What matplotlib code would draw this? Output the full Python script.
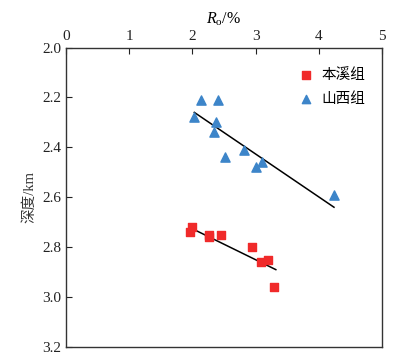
import matplotlib
matplotlib.use('Agg')
import matplotlib.pyplot as plt
import numpy as np

plt.rcParams['font.family'] = ['Liberation Serif', 'Noto Sans CJK SC']
plt.rcParams['mathtext.fontset'] = 'custom'
plt.rcParams['mathtext.rm'] = 'Liberation Serif'
plt.rcParams['mathtext.it'] = 'Liberation Serif:italic'

# Benxi formation (red squares)
bx_ro = [1.99, 1.96, 2.27, 2.27, 2.45, 2.95, 3.09, 3.20, 3.29]
bx_depth = [2.72, 2.74, 2.75, 2.76, 2.75, 2.80, 2.86, 2.85, 2.96]
bx_fit_ro = [2.03, 3.32]
bx_fit_depth = [2.73, 2.89]

# Shanxi formation (blue triangles)
sx_ro = [2.14, 2.41, 2.02, 2.37, 2.34, 2.52, 2.81, 3.10, 3.01, 4.24]
sx_depth = [2.21, 2.21, 2.28, 2.30, 2.34, 2.44, 2.41, 2.46, 2.48, 2.59]
sx_fit_ro = [2.03, 4.24]
sx_fit_depth = [2.26, 2.64]

x_ticks = [0, 1, 2, 3, 4, 5]
y_ticks = [2.0, 2.2, 2.4, 2.6, 2.8, 3.0, 3.2]

fig = plt.figure(figsize=(3.96, 3.64), dpi=100)
ax = fig.add_axes([0.1667, 0.0467, 0.798, 0.8228])

ax.plot(sx_fit_ro, sx_fit_depth, color='black', lw=1.1)
ax.plot(bx_fit_ro, bx_fit_depth, color='black', lw=1.1)
ax.scatter(bx_ro, bx_depth, marker='s', s=34, color='#f02a2a', label='本溪组', zorder=3)
ax.scatter(sx_ro, sx_depth, marker='^', s=44, color='#3d85c9', label='山西组', zorder=3)

ax.set_xlim(0, 5)
ax.set_ylim(3.2, 2.0)
ax.set_xticks(x_ticks)
ax.set_yticks(y_ticks)
ax.set_yticklabels(['%.1f' % v for v in y_ticks])
ax.xaxis.tick_top()
ax.xaxis.set_label_position('top')
ax.tick_params(axis='both', direction='in', length=4, width=0.8, labelsize=11, colors='#222222')
ax.tick_params(axis='x', pad=3)
ax.set_xlabel(r'$R_\mathrm{o}$/%', fontsize=11.5, labelpad=5)
ax.set_ylabel('深度/km', fontsize=10.5, color='#333333', labelpad=4)
for sp in ax.spines.values():
    sp.set_linewidth(1.0)
    sp.set_color('#333333')

leg = ax.legend(loc='upper right', bbox_to_anchor=(0.99, 0.975), frameon=False,
                handletextpad=0.1, labelspacing=0.7, markerscale=0.9,
                prop={'family': ['Noto Sans CJK SC'], 'size': 10.5})

fig.savefig('out.png', dpi=100)
